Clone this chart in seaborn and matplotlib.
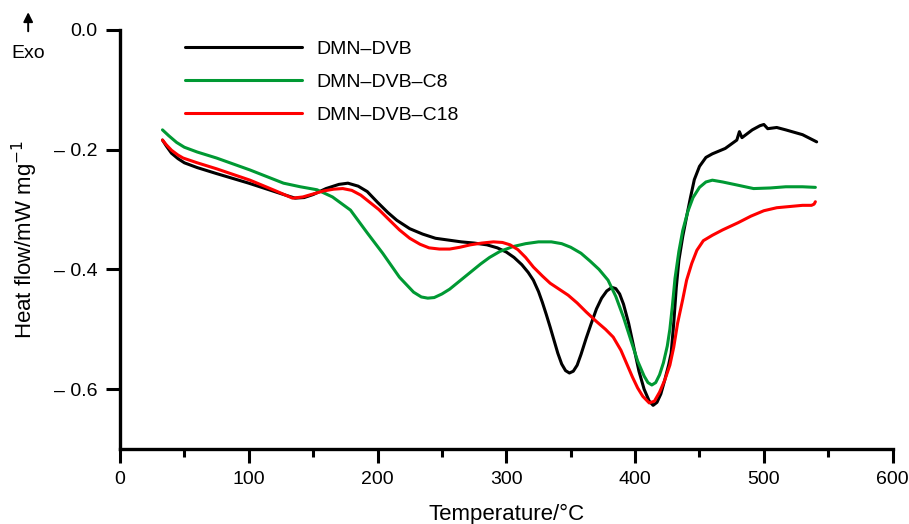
import numpy as np
import pandas as pd
import matplotlib
matplotlib.use("Agg")
import matplotlib.pyplot as plt
import seaborn as sns
from matplotlib.ticker import MultipleLocator, FixedLocator

# ---- data ----
t_dvb = [33, 36, 40, 45, 50, 60, 75, 100, 120, 130, 136, 143, 150, 160, 170, 177, 185, 192, 200,
         208, 215, 225, 235, 245, 255, 265, 275, 285, 293, 300, 306, 312, 317, 321, 325, 328, 331,
         334, 337, 340, 343, 346, 349, 352, 355, 358, 362, 366, 370, 374, 378, 382, 385, 388, 391,
         395, 399, 403, 407, 411, 414, 417, 420, 423, 426, 428, 430, 432, 434, 437, 440, 443, 446,
         450, 455, 460, 470, 479, 481, 483, 491, 497, 500, 503, 510, 517, 530, 541]
h_dvb = [-0.184, -0.194, -0.206, -0.215, -0.222, -0.230, -0.240, -0.256, -0.270, -0.277, -0.281,
         -0.280, -0.275, -0.265, -0.258, -0.256, -0.261, -0.270, -0.288, -0.305, -0.318, -0.332,
         -0.341, -0.348, -0.351, -0.354, -0.356, -0.359, -0.364, -0.371, -0.380, -0.392, -0.405,
         -0.418, -0.437, -0.455, -0.475, -0.496, -0.518, -0.540, -0.558, -0.569, -0.573, -0.570,
         -0.560, -0.542, -0.515, -0.490, -0.466, -0.448, -0.436, -0.430, -0.432, -0.441, -0.458,
         -0.490, -0.530, -0.570, -0.600, -0.620, -0.627, -0.622, -0.608, -0.585, -0.560, -0.540,
         -0.490, -0.430, -0.385, -0.345, -0.312, -0.280, -0.250, -0.228, -0.213, -0.207, -0.198,
         -0.184, -0.170, -0.180, -0.167, -0.160, -0.158, -0.165, -0.163, -0.167, -0.175, -0.187]

t_c8 = [33, 38, 44, 50, 60, 75, 101, 127, 140, 153, 165, 179, 192, 204, 217, 228, 234, 239, 244,
        250, 256, 264, 272, 280, 287, 295, 305, 315, 325, 335, 343, 350, 358, 365, 372, 379, 385,
        391, 397, 402, 407, 410, 413, 416, 419, 422, 425, 427, 429, 431, 434, 437, 441, 445, 450,
        455, 460, 468, 479, 492, 505, 517, 530, 540]
h_c8 = [-0.167, -0.177, -0.188, -0.196, -0.204, -0.214, -0.234, -0.256, -0.262, -0.267, -0.279,
        -0.301, -0.339, -0.373, -0.413, -0.438, -0.446, -0.448, -0.447, -0.441, -0.433, -0.419,
        -0.405, -0.391, -0.380, -0.370, -0.362, -0.357, -0.354, -0.354, -0.357, -0.363, -0.373,
        -0.386, -0.400, -0.418, -0.445, -0.480, -0.520, -0.553, -0.578, -0.589, -0.593, -0.589,
        -0.576, -0.556, -0.528, -0.500, -0.460, -0.415, -0.370, -0.335, -0.303, -0.280, -0.263,
        -0.254, -0.251, -0.254, -0.259, -0.265, -0.264, -0.262, -0.262, -0.263]

t_c18 = [33, 36, 40, 45, 49, 60, 75, 101, 120, 134, 142, 150, 158, 166, 173, 180, 187, 194, 201,
         208, 217, 225, 233, 240, 248, 256, 264, 272, 281, 290, 297, 303, 309, 315, 321, 328, 334,
         341, 348, 355, 362, 370, 377, 383, 389, 394, 398, 402, 406, 411, 415, 419, 423, 427, 430,
         433, 437, 440, 444, 448, 453, 460, 468, 480, 490, 500, 510, 520, 530, 537, 539, 540]
h_c18 = [-0.184, -0.192, -0.201, -0.209, -0.214, -0.222, -0.232, -0.251, -0.268, -0.281, -0.279,
         -0.274, -0.269, -0.266, -0.265, -0.268, -0.276, -0.288, -0.300, -0.315, -0.334, -0.348,
         -0.358, -0.364, -0.366, -0.366, -0.363, -0.359, -0.356, -0.354, -0.355, -0.359, -0.367,
         -0.380, -0.396, -0.411, -0.423, -0.433, -0.443, -0.456, -0.471, -0.487, -0.500, -0.513,
         -0.535, -0.560, -0.580, -0.598, -0.612, -0.623, -0.620, -0.605, -0.585, -0.560, -0.530,
         -0.490, -0.450, -0.418, -0.390, -0.368, -0.352, -0.343, -0.334, -0.322, -0.311, -0.302,
         -0.297, -0.295, -0.293, -0.293, -0.291, -0.287]

labels = ["DMN\u2013DVB", "DMN\u2013DVB\u2013C8", "DMN\u2013DVB\u2013C18"]
colors = ["#000000", "#009933", "#ff0000"]
y_ticks = [0.0, -0.2, -0.4, -0.6]
y_ticklabels = ["0.0", "\u2013 0.2", "\u2013 0.4", "\u2013 0.6"]

df = pd.concat([
    pd.DataFrame({"T": t_dvb, "H": h_dvb, "s": labels[0]}),
    pd.DataFrame({"T": t_c8, "H": h_c8, "s": labels[1]}),
    pd.DataFrame({"T": t_c18, "H": h_c18, "s": labels[2]}),
], ignore_index=True)

sns.set_style("ticks")
plt.rcParams["font.family"] = ["Liberation Sans", "DejaVu Sans"]
plt.rcParams["text.color"] = "black"
plt.rcParams["axes.labelcolor"] = "black"
plt.rcParams["xtick.color"] = "black"
plt.rcParams["ytick.color"] = "black"

fig = plt.figure(figsize=(9.09, 5.24), dpi=100)
ax = fig.add_axes([0.132, 0.143, 0.850, 0.800])

sns.lineplot(data=df, x="T", y="H", hue="s", palette=dict(zip(labels, colors)),
             hue_order=labels, sort=False, estimator=None, linewidth=2.2, ax=ax)

ax.set_xlim(0, 600)
ax.set_ylim(-0.7, 0.0)
ax.xaxis.set_major_locator(MultipleLocator(100))
ax.xaxis.set_minor_locator(MultipleLocator(50))
ax.yaxis.set_major_locator(FixedLocator(y_ticks))
ax.set_yticklabels(y_ticklabels)
ax.tick_params(axis="both", which="major", length=10, width=2.2, labelsize=14, pad=6,
               color="black", labelcolor="black")
ax.tick_params(axis="x", which="minor", length=6, width=2.2, color="black")
for sp in ["left", "bottom"]:
    ax.spines[sp].set_linewidth(2.4)
    ax.spines[sp].set_color("black")
for sp in ["top", "right"]:
    ax.spines[sp].set_visible(False)
ax.spines["left"].set_bounds(-0.7, 0.0)

ax.set_xlabel("Temperature/\u00b0C", fontsize=16, labelpad=11)
ax.set_ylabel("Heat flow/mW mg$^{-1}$", fontsize=16, labelpad=10)

leg = ax.legend(frameon=False, loc="upper left", bbox_to_anchor=(0.084, 0.975),
                borderaxespad=0, borderpad=0, handlelength=6.0, handletextpad=0.75,
                labelspacing=0.8, fontsize=14)
for line in leg.get_lines():
    line.set_linewidth(2.2)
for txt in leg.get_texts():
    txt.set_color("black")

fig.text(0.031, 0.897, "Exo", fontsize=14, ha="center", va="center")
fig.patches.append(matplotlib.patches.FancyArrowPatch(
    (0.031, 0.935), (0.031, 0.982), transform=fig.transFigure,
    arrowstyle="-|>", mutation_scale=14, color="black", linewidth=1.4))

fig.savefig("out.png", dpi=100)
